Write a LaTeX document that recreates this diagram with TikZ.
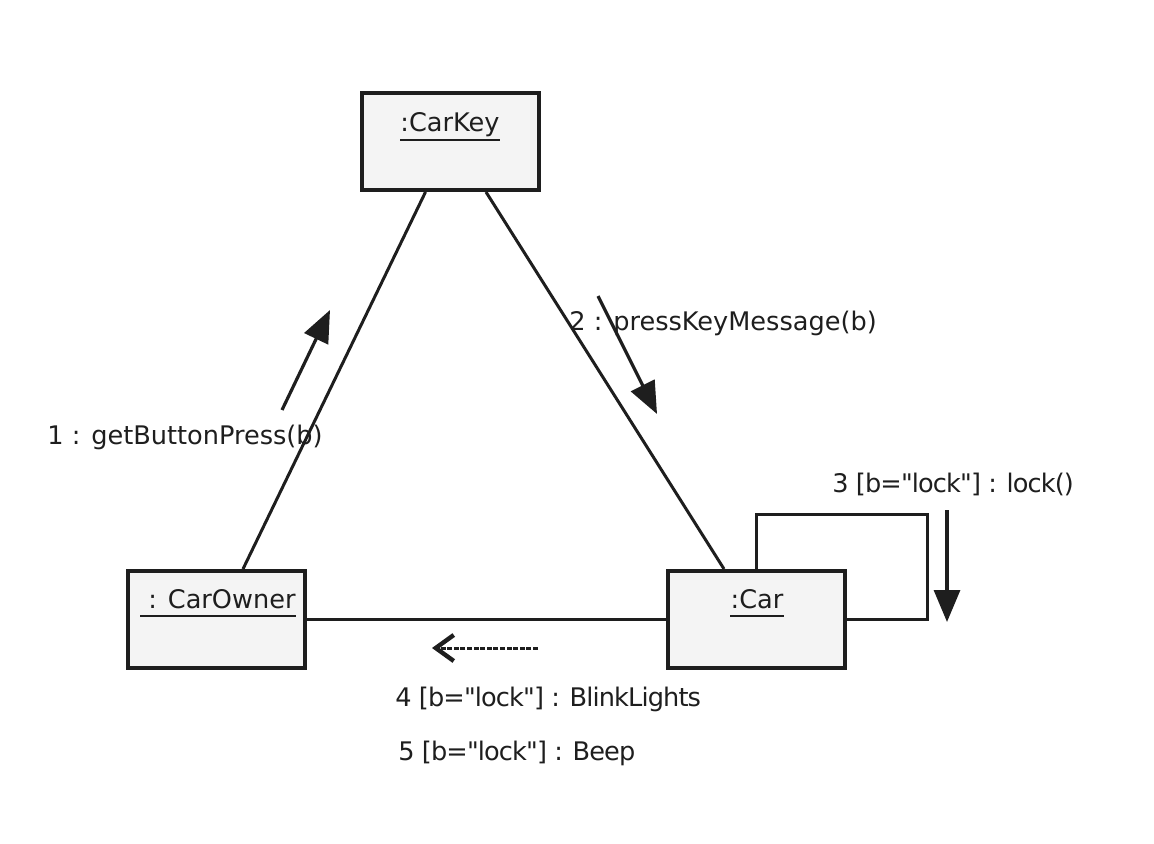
\documentclass[tikz,border=0pt]{standalone}
\usepackage{fontspec}
\setmainfont{DejaVu Sans}[Ligatures=TeXOff]
\newfontfamily\tightfont{DejaVu Sans}[Ligatures=TeXOff,LetterSpace=-3.4]
\usetikzlibrary{arrows.meta,calc}
\definecolor{ink}{HTML}{1E1E1E}
\definecolor{boxfill}{HTML}{F4F4F4}
\begin{document}
\begin{tikzpicture}[x=0.5pt,y=-0.5pt,
  obj/.style={draw=ink,line width=2pt,fill=boxfill,minimum width=88.5pt,minimum height=48.5pt,inner sep=0pt},
  lbl/.style={inner sep=0pt,text=ink,font=\fontsize{12.8}{15}\selectfont},
  tlbl/.style={lbl,font=\fontsize{12.8}{15}\tightfont},
  uline/.style={draw=ink,line width=1.3pt},
  conn/.style={draw=ink,line width=1.5pt},
  msg/.style={draw=ink,line width=1.6pt,-{Triangle[length=16pt,width=13pt]}},
  async/.style={draw=ink,line width=1.5pt,dash pattern=on 2.5pt off 0.8pt,-{Straight Barb[length=9pt,width=13pt,line width=2.2pt]}}]
\useasboundingbox (0,0) rectangle (1154,844);
% objects
\node[obj] (key) at (450.5,141.5) {};
\node[obj] (owner) at (216.5,619.5) {};
\node[obj] (car) at (756.5,619.5) {};
\node[lbl,anchor=base] (keyt) at (450,132) {:CarKey};
\node[lbl,anchor=base] (ownert) at (222,608) {: CarOwner};
\node[lbl,anchor=base] (cart) at (757,608) {:Car};
\draw[uline] ($(keyt.base west)+(0,8)$) -- ($(keyt.base east)+(0,8)$);
\draw[uline] ($(ownert.base west)+(-8,8)$) -- ($(ownert.base east)+(0,8)$);
\draw[uline] ($(cart.base west)+(0,8)$) -- ($(cart.base east)+(0,8)$);
% links
\draw[conn] ($(key.south)+(-25,0)$) -- ($(owner.north)+(26.5,0)$);
\draw[conn] ($(key.south)+(35.5,0)$) -- ($(car.north)+(-32.5,0)$);
\draw[conn] (owner.east) -- (car.west);
\draw[conn] (car.north) -- ++(0,-55) -| ($(car.east)+(80,0)$) -- (car.east);
% messages
\coordinate (m1s) at (282,410);
\coordinate (m1e) at (330,310);
\draw[msg] (m1s) -- (m1e);
\coordinate (m2s) at (598,296);
\coordinate (m2e) at (657,414);
\draw[msg] (m2s) -- (m2e);
\coordinate (m3s) at (947,510);
\coordinate (m3e) at (947,622);
\draw[msg] (m3s) -- (m3e);
\coordinate (m4s) at (538,648);
\coordinate (m4e) at (432,648);
\draw[async] (m4s) -- (m4e);
% labels
\node[lbl,anchor=base west] (l1) at (47,444) {1 : getButtonPress(b)};
\node[lbl,anchor=base west] (l2) at (569,330) {2 : pressKeyMessage(b)};
\node[tlbl,anchor=base west] (l3) at (832,492) {3 [b="lock"] : lock()};
\node[tlbl,anchor=base west] (l4) at (395,706) {4 [b="lock"] : BlinkLights};
\node[tlbl,anchor=base west] (l5) at (398,760) {5 [b="lock"] : Beep};
\end{tikzpicture}
\end{document}
